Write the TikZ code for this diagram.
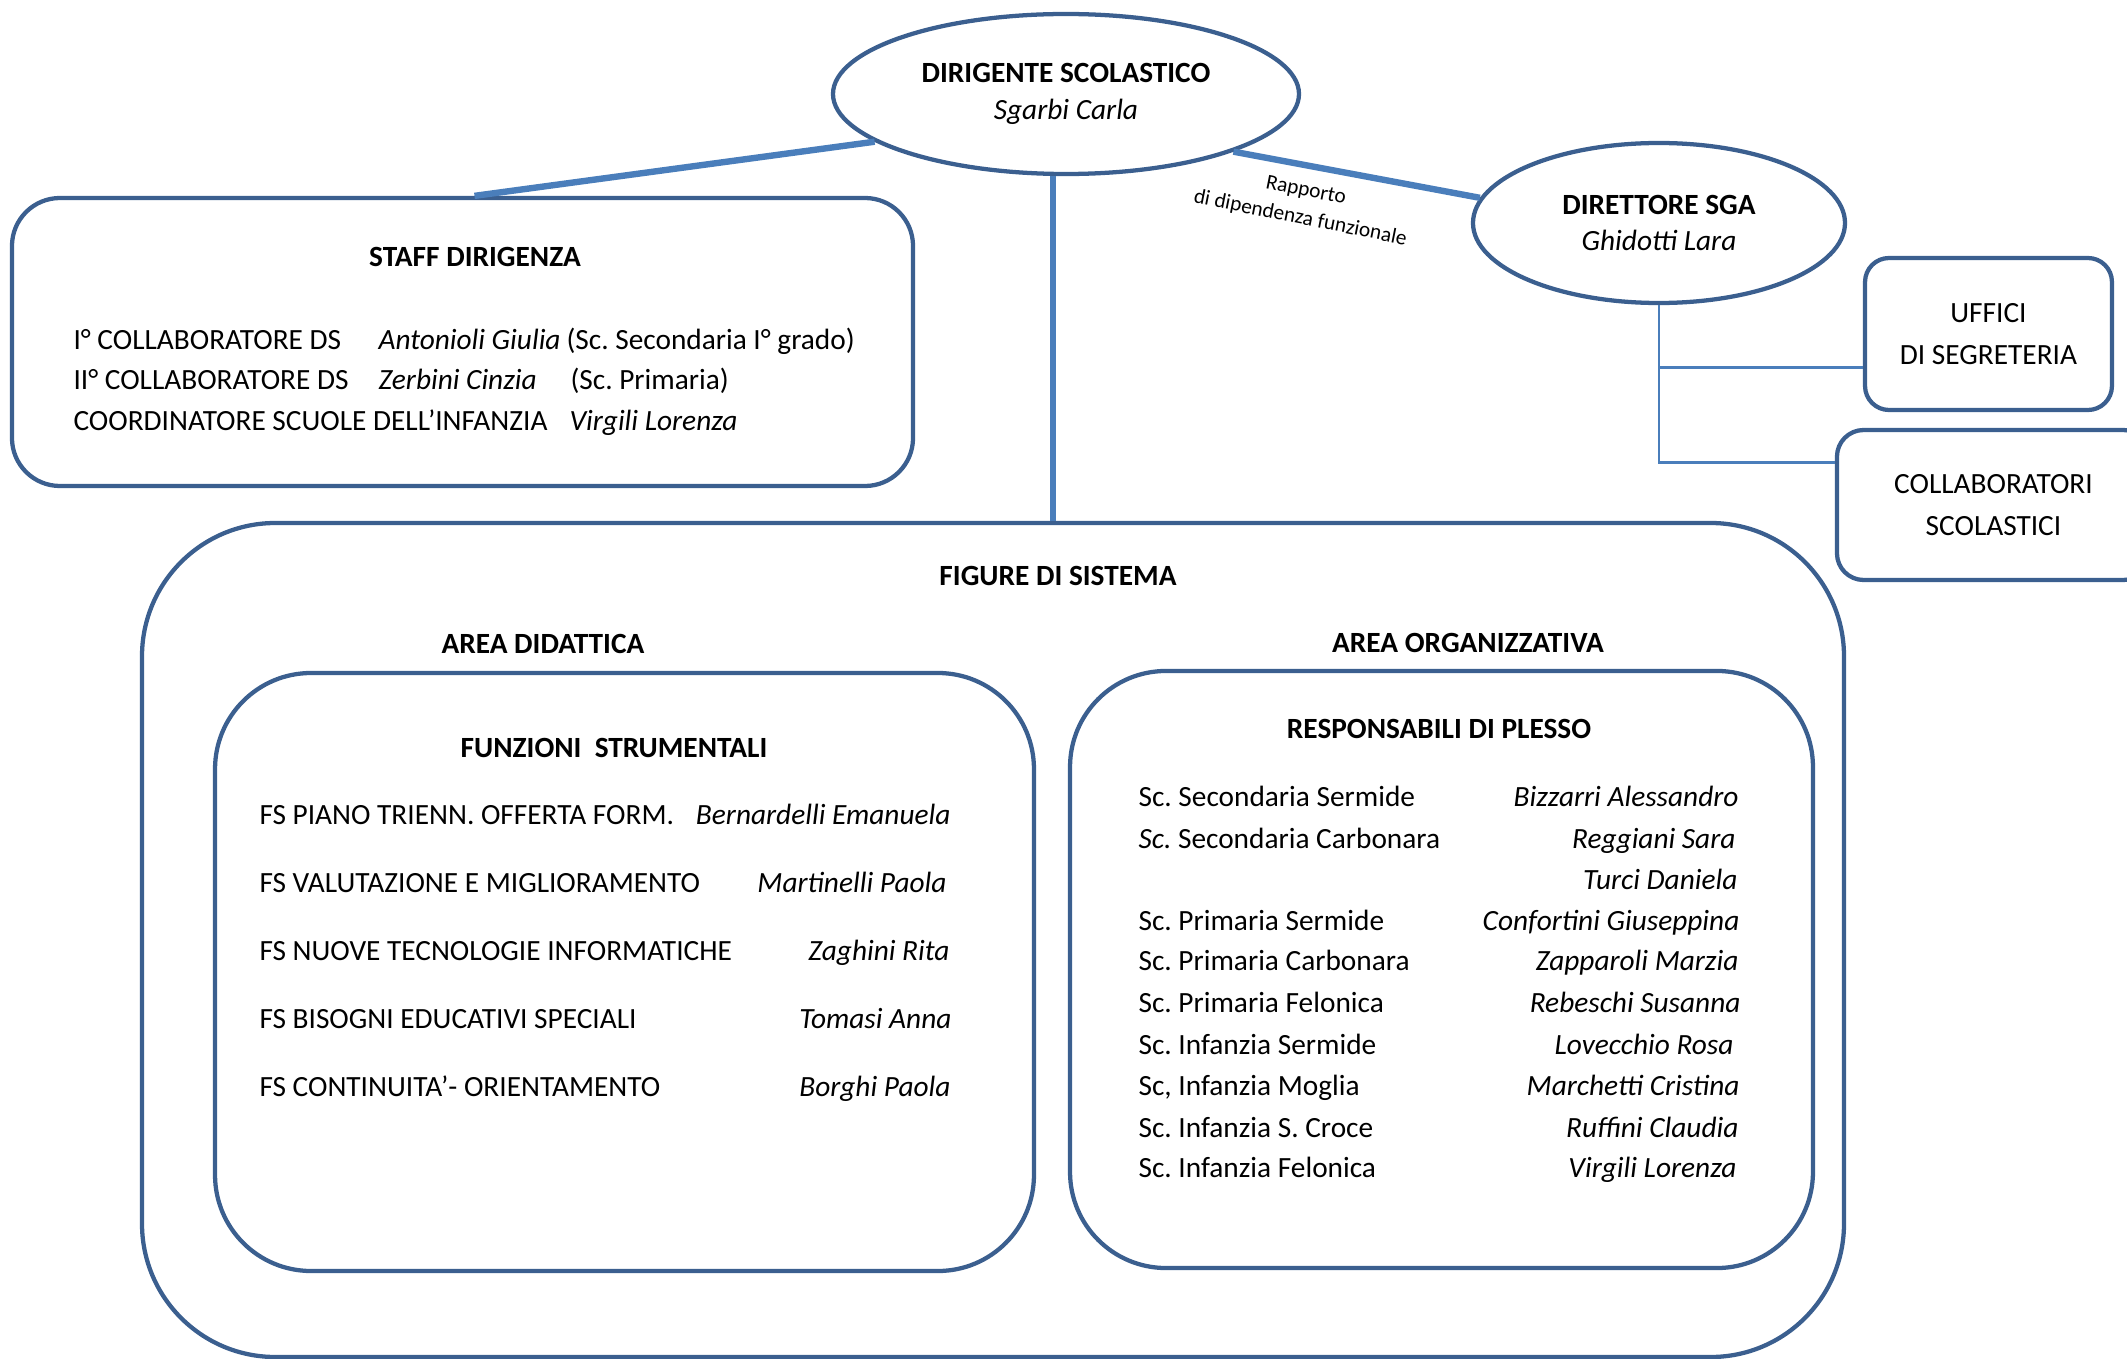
\documentclass[tikz,border=0pt]{standalone}
\usepackage{fontspec}
\setmainfont{Carlito}
\frenchspacing
\usetikzlibrary{shapes.geometric,calc}
\definecolor{outl}{HTML}{3B5F8F}
\definecolor{conn}{HTML}{4A7EBB}
\begin{document}
\begin{tikzpicture}[x=0.375pt,y=-0.375pt,
  box/.style={draw=outl,line width=1.6pt,rounded corners=#1,inner sep=0pt,align=center,font=\fontsize{11}{15.6}\selectfont},
  oval/.style={draw=outl,line width=1.6pt,ellipse,inner sep=0pt,align=center,font=\fontsize{11}{13.7}\selectfont},
  thickconn/.style={draw=conn,line width=2.4pt},
  thinconn/.style={draw=conn,line width=1.1pt},
  txt/.style={inner sep=0pt,font=\fontsize{11}{13.5}\selectfont},
  t/.style={txt,anchor=base west},
  te/.style={txt,anchor=base east},
  tc/.style={txt,anchor=base}]
\useasboundingbox (0,0) rectangle (2127,1359);

% main shapes
\node[oval,minimum width=174.75pt,minimum height=60pt] (ds) at (1066,94)
  {\textbf{DIRIGENTE SCOLASTICO}\\\textit{Sgarbi Carla}};
\node[oval,minimum width=139.5pt,minimum height=60pt] (sga) at (1659,223)
  {\textbf{DIRETTORE SGA}\\\textit{Ghidotti Lara}};
\node[box=18pt,minimum width=337.9pt,minimum height=108pt] (staff) at (462.5,342) {};
\node[box=50pt,minimum width=638.25pt,minimum height=312.75pt] (fig) at (993,940) {};
\node[box=36pt,minimum width=307.1pt,minimum height=224.25pt] (fsbox) at (624.5,972) {};
\node[box=36pt,minimum width=278.6pt,minimum height=223.9pt] (resp) at (1441.5,969.5) {};
\node[box=9pt,minimum width=92.6pt,minimum height=57pt] (uff) at (1988.5,334) {UFFICI\\DI SEGRETERIA};
\node[box=10pt,minimum width=117.4pt,minimum height=56.25pt] (coll) at (1993.5,505) {COLLABORATORI\\SCOLASTICI};

% connectors
\draw[thickconn] (ds.194) -- ([xshift=4.5pt]staff.north);
\draw[thickconn] ([xshift=-4.9pt]ds.south) -- ([xshift=-4.9pt]ds.south |- fig.north);
\draw[thickconn] (ds.-19) -- (sga.172);
\node[inner sep=0pt,rotate=-11.3,align=center,font=\fontsize{8}{10.6}\selectfont] (lbl) at (1303,205)
  {Rapporto\\di dipendenza funzionale};
\draw[thinconn] (sga.south) |- ([yshift=-12.4pt]uff.west);
\draw[thinconn] (sga.south) |- ([yshift=16.1pt]coll.west);

% staff text
\node[tc] (stafftitle) at (475,266) {\textbf{STAFF DIRIGENZA}};
\node[t] (s1a) at (73,349) {I° COLLABORATORE DS};
\node[t] (s1b) at (378,349) {\textit{Antonioli Giulia}};
\node[t] (s1c) at (566,349) {(Sc. Secondaria I° grado)};
\node[t] (s2a) at (73,390) {II° COLLABORATORE DS};
\node[t] (s2b) at (378,390) {\textit{Zerbini Cinzia}};
\node[t] (s2c) at (570,390) {(Sc. Primaria)};
\node[t] (s3a) at (73,431) {COORDINATORE SCUOLE DELL’INFANZIA};
\node[t] (s3b) at (569,431) {\textit{Virgili Lorenza}};

% figure di sistema
\node[tc] (figtitle) at (1058,585) {\textbf{FIGURE DI SISTEMA}};
\node[tc] (areadid) at (543,653) {\textbf{AREA DIDATTICA}};
\node[tc] (areaorg) at (1468,652) {\textbf{AREA ORGANIZZATIVA}};

% funzioni strumentali
\node[tc] (fstitle) at (614,757) {\textbf{FUNZIONI\ \ STRUMENTALI}};
\node[t] (f1) at (259,824) {FS PIANO TRIENN. OFFERTA FORM.};
\node[te] (f1n) at (951,824) {\textit{Bernardelli Emanuela}};
\node[t] (f2) at (259,892) {FS VALUTAZIONE E MIGLIORAMENTO};
\node[te] (f2n) at (947,892) {\textit{Martinelli Paola}};
\node[t] (f3) at (259,960) {FS NUOVE TECNOLOGIE INFORMATICHE};
\node[te] (f3n) at (950,960) {\textit{Zaghini Rita}};
\node[t] (f4) at (259,1028) {FS BISOGNI EDUCATIVI SPECIALI};
\node[te] (f4n) at (952,1028) {\textit{Tomasi Anna}};
\node[t] (f5) at (259,1096) {FS CONTINUITA’- ORIENTAMENTO};
\node[te] (f5n) at (951,1096) {\textit{Borghi Paola}};

% responsabili di plesso
\node[tc] (rtitle) at (1439,738) {\textbf{RESPONSABILI DI PLESSO}};
\node[t] (r1) at (1138,806) {Sc. Secondaria Sermide};
\node[te] (r1n) at (1739,806) {\textit{Bizzarri Alessandro}};
\node[t] (r2) at (1138,848) {\textit{Sc.} Secondaria Carbonara};
\node[te] (r2n) at (1736,848) {\textit{Reggiani Sara}};
\node[te] (r3n) at (1738,889) {\textit{Turci Daniela}};
\node[t] (r4) at (1138,930) {Sc. Primaria Sermide};
\node[te] (r4n) at (1740,930) {\textit{Confortini Giuseppina}};
\node[t] (r5) at (1138,970) {Sc. Primaria Carbonara};
\node[te] (r5n) at (1739,970) {\textit{Zapparoli Marzia}};
\node[t] (r6) at (1138,1012) {Sc. Primaria Felonica};
\node[te] (r6n) at (1741,1012) {\textit{Rebeschi Susanna}};
\node[t] (r7) at (1138,1054) {Sc. Infanzia Sermide};
\node[te] (r7n) at (1734,1054) {\textit{Lovecchio Rosa}};
\node[t] (r8) at (1138,1095) {Sc, Infanzia Moglia};
\node[te] (r8n) at (1740,1095) {\textit{Marchetti Cristina}};
\node[t] (r9) at (1138,1137) {Sc. Infanzia S. Croce};
\node[te] (r9n) at (1739,1137) {\textit{Ruffini Claudia}};
\node[t] (r10) at (1138,1177) {Sc. Infanzia Felonica};
\node[te] (r10n) at (1737,1177) {\textit{Virgili Lorenza}};
\end{tikzpicture}
\end{document}
